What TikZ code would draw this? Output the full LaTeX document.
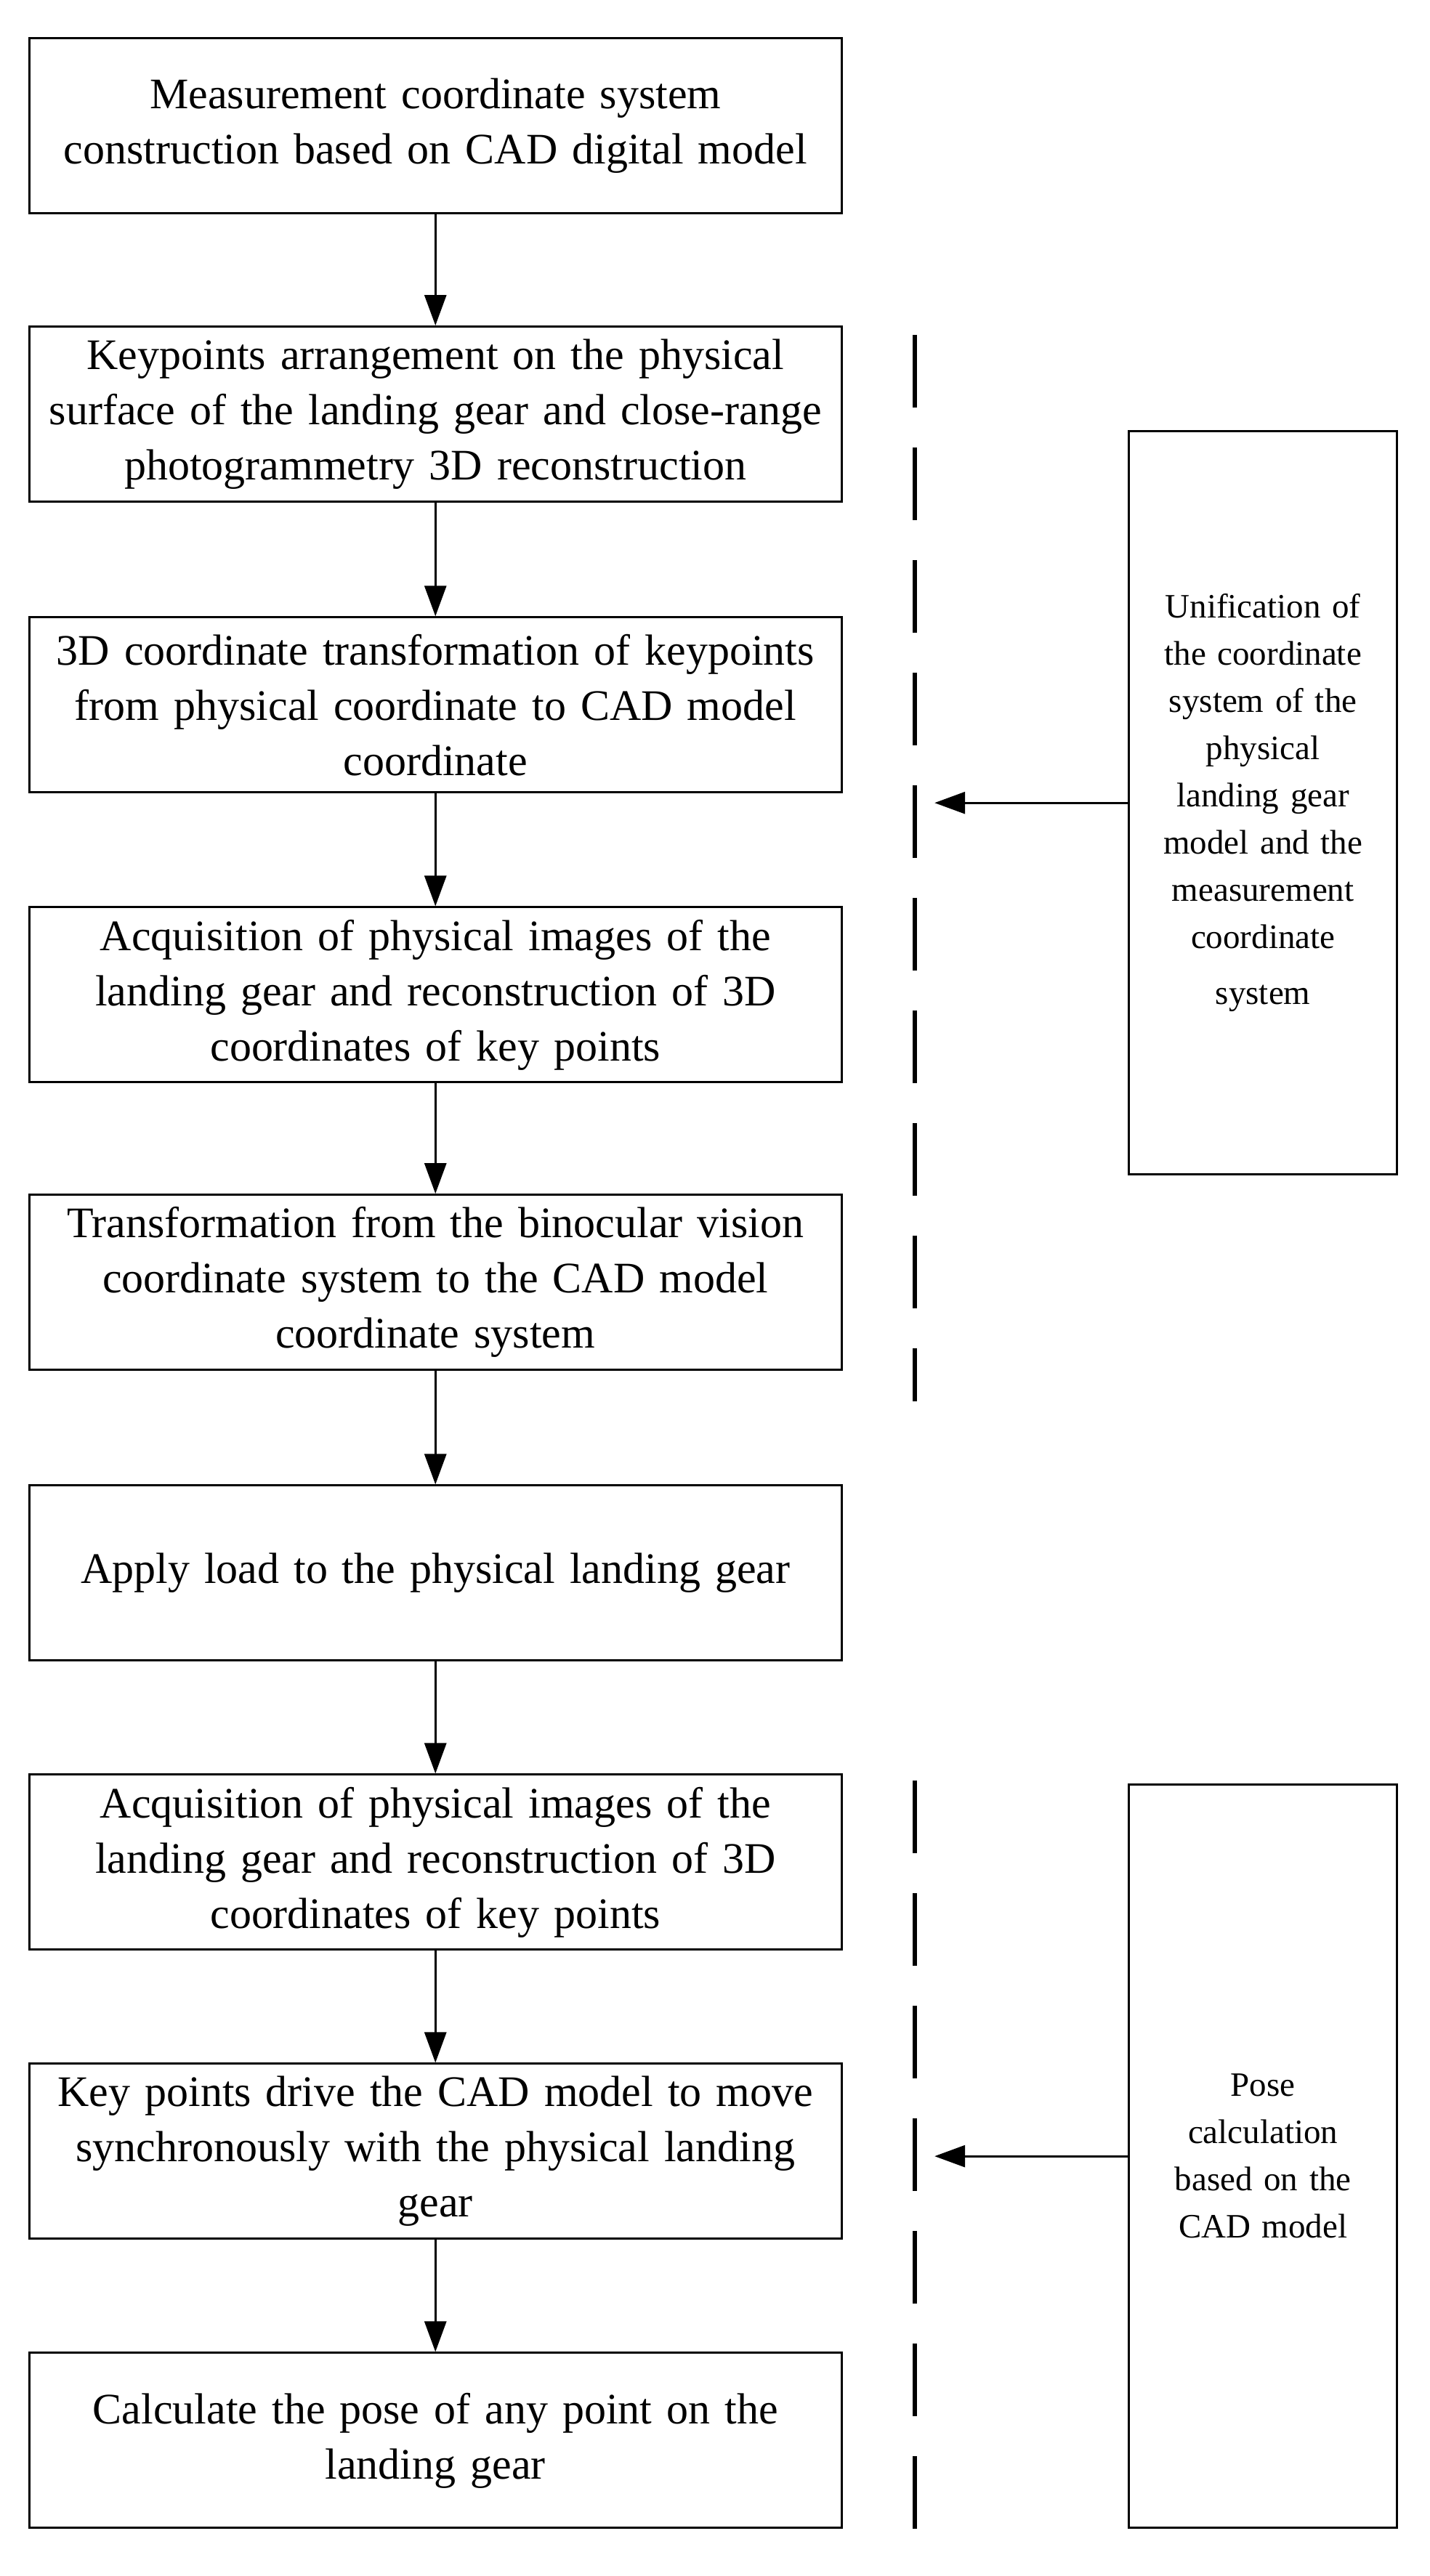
\documentclass[tikz,border=0pt]{standalone}
\usepackage{fontspec}
\setmainfont{Liberation Serif}
\usetikzlibrary{arrows.meta}
\begin{document}
\begin{tikzpicture}[x=2.249pt,y=-2.249pt,
  box/.style={draw,line width=3pt,minimum width=1118pt,minimum height=241pt,text width=1080pt,align=center,inner sep=0pt,font=\fontsize{60}{76}\selectfont},
  side/.style={draw,line width=3pt,minimum width=369pt,minimum height=1023pt,text width=330pt,align=center,inner sep=0pt,font=\fontsize{47}{65}\selectfont},
  arr/.style={line width=3pt,-{Triangle[length=42pt,width=30pt]}},
  dline/.style={line width=6pt,dash pattern=on 100pt off 55pt}]
\useasboundingbox (0,0) rectangle (875,1577);
\node[box] (b1) at (266.5,77) {Measurement coordinate system\\construction based on CAD digital model};
\node[box] (b2) at (266.5,253.5) {Keypoints arrangement on the physical\\surface of the landing gear and close-range\\photogrammetry 3D reconstruction};
\node[box] (b3) at (266.5,431.5) {3D coordinate transformation of keypoints\\from physical coordinate to CAD model\\coordinate};
\node[box] (b4) at (266.5,609) {Acquisition of physical images of the\\landing gear and reconstruction of 3D\\coordinates of key points};
\node[box] (b5) at (266.5,785) {Transformation from the binocular vision\\coordinate system to the CAD model\\coordinate system};
\node[box] (b6) at (266.5,963) {Apply load to the physical landing gear};
\node[box] (b7) at (266.5,1140) {Acquisition of physical images of the\\landing gear and reconstruction of 3D\\coordinates of key points};
\node[box] (b8) at (266.5,1317) {Key points drive the CAD model to move\\synchronously with the physical landing\\gear};
\node[box] (b9) at (266.5,1494) {Calculate the pose of any point on the\\landing gear};
\foreach \a/\b in {b1/b2,b2/b3,b3/b4,b4/b5,b5/b6,b6/b7,b7/b8,b8/b9}
  \draw[arr] (\a) -- (\b);
\node[side] (s1) at (773,491.5) {Unification of\\the coordinate\\system of the\\physical\\landing gear\\model and the\\measurement\\coordinate\\[12pt]system};
\node[side] (s2) at (773,1320) {Pose\\calculation\\based on the\\CAD model};
\coordinate (d1a) at (560,205); \coordinate (d1b) at (560,858);
\coordinate (d2a) at (560,1090); \coordinate (d2b) at (560,1550);
\draw[dline] (d1a) -- (d1b);
\draw[dline] (d2a) -- (d2b);
\coordinate (t1) at (572,491.5); \coordinate (t2) at (572,1320);
\draw[arr] (s1.west) -- (t1);
\draw[arr] (s2.west) -- (t2);
\end{tikzpicture}
\end{document}
